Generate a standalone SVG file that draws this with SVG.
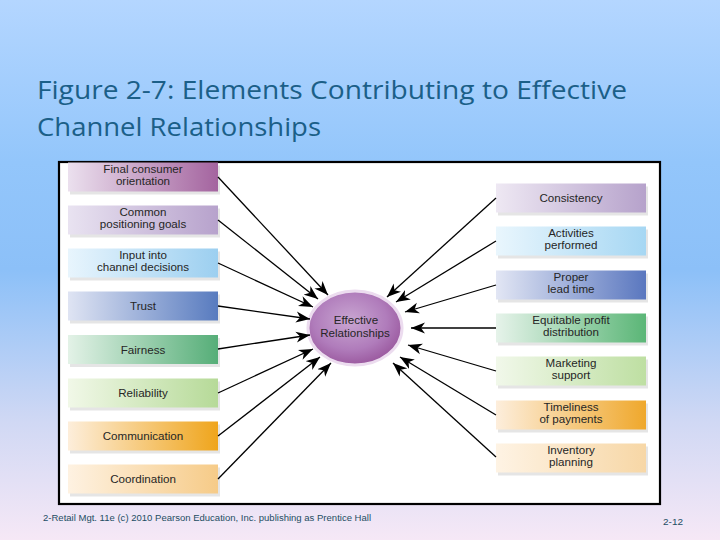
<svg xmlns="http://www.w3.org/2000/svg" width="720" height="540" viewBox="0 0 720 540">
<style>
.lbl{font-family:"Liberation Sans","DejaVu Sans",sans-serif;font-size:11.6px;fill:#262626;text-anchor:middle}
.sh{fill:#cfcfcf;opacity:0.55}
.con line{stroke:#000;stroke-width:1.3;fill:none;marker-end:url(#ah)}
.title{font-family:"Open Sans","Liberation Sans",sans-serif;font-size:25px;fill:#1b5f88}
.foot{font-family:"Liberation Sans",sans-serif;font-size:8.5px;fill:#1d4d63}
</style>
<defs>
<linearGradient id="bg" x1="0" y1="0" x2="0" y2="1">
<stop offset="0" stop-color="#b4d6ff"/>
<stop offset="0.3" stop-color="#93c6fb"/>
<stop offset="0.5" stop-color="#8cc0f8"/>
<stop offset="0.78" stop-color="#d0d8f4"/>
<stop offset="1" stop-color="#f6e8f6"/>
</linearGradient>
<radialGradient id="ell" cx="0.45" cy="0.4" r="0.65">
<stop offset="0" stop-color="#c9a6d2"/>
<stop offset="0.6" stop-color="#b07cbb"/>
<stop offset="1" stop-color="#965299"/>
</radialGradient>
<linearGradient id="g1"><stop offset="0" stop-color="#ebe0ee"/><stop offset="1" stop-color="#a4649f"/></linearGradient>
<linearGradient id="g2"><stop offset="0" stop-color="#e9e3f1"/><stop offset="1" stop-color="#b7a2cc"/></linearGradient>
<linearGradient id="g3"><stop offset="0" stop-color="#e8f5fd"/><stop offset="1" stop-color="#9ccff0"/></linearGradient>
<linearGradient id="g4"><stop offset="0" stop-color="#dfe4f3"/><stop offset="1" stop-color="#587bbf"/></linearGradient>
<linearGradient id="g5"><stop offset="0" stop-color="#e3f2e7"/><stop offset="1" stop-color="#56ae78"/></linearGradient>
<linearGradient id="g6"><stop offset="0" stop-color="#f1f8e8"/><stop offset="1" stop-color="#b6da98"/></linearGradient>
<linearGradient id="g7"><stop offset="0" stop-color="#fdeedb"/><stop offset="1" stop-color="#efa51c"/></linearGradient>
<linearGradient id="g8"><stop offset="0" stop-color="#fef2e2"/><stop offset="1" stop-color="#f6cb88"/></linearGradient>
<linearGradient id="r1"><stop offset="0" stop-color="#eee8f3"/><stop offset="1" stop-color="#b6a2cb"/></linearGradient>
<linearGradient id="r2"><stop offset="0" stop-color="#e9f6fd"/><stop offset="1" stop-color="#a6d7f3"/></linearGradient>
<linearGradient id="r3"><stop offset="0" stop-color="#e2e6f4"/><stop offset="1" stop-color="#5a77bf"/></linearGradient>
<linearGradient id="r4"><stop offset="0" stop-color="#e6f3ea"/><stop offset="1" stop-color="#5bb677"/></linearGradient>
<linearGradient id="r5"><stop offset="0" stop-color="#f1f8ea"/><stop offset="1" stop-color="#bedfa2"/></linearGradient>
<linearGradient id="r6"><stop offset="0" stop-color="#fdeedc"/><stop offset="1" stop-color="#efa82c"/></linearGradient>
<linearGradient id="r7"><stop offset="0" stop-color="#fef3e4"/><stop offset="1" stop-color="#f7d7a6"/></linearGradient>
<marker id="ah" viewBox="-14 -6 15 12" refX="0" refY="0" markerWidth="15" markerHeight="12" markerUnits="userSpaceOnUse" orient="auto">
<path d="M0,0 L-14,-5.5 L-10,0 L-14,5.5 Z" fill="#000"/>
</marker>
</defs>

<rect x="0" y="0" width="720" height="540" fill="url(#bg)"/>

<text class="title" x="37" y="99" textLength="590" lengthAdjust="spacingAndGlyphs">Figure 2-7: Elements Contributing to Effective</text>
<text class="title" x="37" y="136" textLength="284" lengthAdjust="spacingAndGlyphs">Channel Relationships</text>

<rect x="59" y="162" width="601" height="342" fill="#fff" stroke="#000" stroke-width="2.2"/>

<g id="left-1"><rect class="sh" x="70" y="165.5" width="150" height="29"/><rect x="68" y="162.5" width="150" height="29" fill="url(#g1)"/><text class="lbl" x="143" y="173">Final consumer</text><text class="lbl" x="143" y="185">orientation</text></g>
<g id="left-2"><rect class="sh" x="70" y="208.5" width="150" height="29"/><rect x="68" y="205.5" width="150" height="29" fill="url(#g2)"/><text class="lbl" x="143" y="216">Common</text><text class="lbl" x="143" y="228">positioning goals</text></g>
<g id="left-3"><rect class="sh" x="70" y="251.5" width="150" height="29"/><rect x="68" y="248.5" width="150" height="29" fill="url(#g3)"/><text class="lbl" x="143" y="259">Input into</text><text class="lbl" x="143" y="271">channel decisions</text></g>
<g id="left-4"><rect class="sh" x="70" y="294.5" width="150" height="29"/><rect x="68" y="291.5" width="150" height="29" fill="url(#g4)"/><text class="lbl" x="143" y="310">Trust</text></g>
<g id="left-5"><rect class="sh" x="70" y="338" width="150" height="29"/><rect x="68" y="335" width="150" height="29" fill="url(#g5)"/><text class="lbl" x="143" y="353.5">Fairness</text></g>
<g id="left-6"><rect class="sh" x="70" y="381.5" width="150" height="29"/><rect x="68" y="378.5" width="150" height="29" fill="url(#g6)"/><text class="lbl" x="143" y="397">Reliability</text></g>
<g id="left-7"><rect class="sh" x="70" y="424.5" width="150" height="29"/><rect x="68" y="421.5" width="150" height="29" fill="url(#g7)"/><text class="lbl" x="143" y="440">Communication</text></g>
<g id="left-8"><rect class="sh" x="70" y="467.5" width="150" height="29"/><rect x="68" y="464.5" width="150" height="29" fill="url(#g8)"/><text class="lbl" x="143" y="483">Coordination</text></g>

<g id="right-1"><rect class="sh" x="498" y="186.5" width="150" height="29"/><rect x="496" y="183.5" width="150" height="29" fill="url(#r1)"/><text class="lbl" x="571" y="202">Consistency</text></g>
<g id="right-2"><rect class="sh" x="498" y="229.5" width="150" height="29"/><rect x="496" y="226.5" width="150" height="29" fill="url(#r2)"/><text class="lbl" x="571" y="237">Activities</text><text class="lbl" x="571" y="249">performed</text></g>
<g id="right-3"><rect class="sh" x="498" y="273.5" width="150" height="29"/><rect x="496" y="270.5" width="150" height="29" fill="url(#r3)"/><text class="lbl" x="571" y="281">Proper</text><text class="lbl" x="571" y="293">lead time</text></g>
<g id="right-4"><rect class="sh" x="498" y="316.5" width="150" height="29"/><rect x="496" y="313.5" width="150" height="29" fill="url(#r4)"/><text class="lbl" x="571" y="324">Equitable profit</text><text class="lbl" x="571" y="336">distribution</text></g>
<g id="right-5"><rect class="sh" x="498" y="359.5" width="150" height="29"/><rect x="496" y="356.5" width="150" height="29" fill="url(#r5)"/><text class="lbl" x="571" y="367">Marketing</text><text class="lbl" x="571" y="379">support</text></g>
<g id="right-6"><rect class="sh" x="498" y="403.5" width="150" height="29"/><rect x="496" y="400.5" width="150" height="29" fill="url(#r6)"/><text class="lbl" x="571" y="411">Timeliness</text><text class="lbl" x="571" y="423">of payments</text></g>
<g id="right-7"><rect class="sh" x="498" y="446.5" width="150" height="29"/><rect x="496" y="443.5" width="150" height="29" fill="url(#r7)"/><text class="lbl" x="571" y="454">Inventory</text><text class="lbl" x="571" y="466">planning</text></g>

<g id="center">
<ellipse cx="355" cy="328" rx="47" ry="37" fill="url(#ell)" stroke="#ecdcef" stroke-width="3"/>
<text class="lbl" x="356" y="324">Effective</text>
<text class="lbl" x="355" y="336.5">Relationships</text>
</g>

<g id="connectors" class="con">
<line x1="218" y1="177" x2="328" y2="295"/>
<line x1="218" y1="220" x2="318" y2="299"/>
<line x1="218" y1="263" x2="313" y2="307"/>
<line x1="218" y1="306" x2="310" y2="319"/>
<line x1="218" y1="349" x2="310" y2="335"/>
<line x1="218" y1="393" x2="313" y2="349"/>
<line x1="218" y1="436" x2="320" y2="357"/>
<line x1="218" y1="479" x2="331" y2="363"/>
<line x1="496" y1="198" x2="387" y2="297"/>
<line x1="496" y1="241" x2="396" y2="302"/>
<line x1="496" y1="285" x2="405" y2="312"/>
<line x1="496" y1="328" x2="411" y2="328"/>
<line x1="496" y1="371" x2="408" y2="345"/>
<line x1="496" y1="415" x2="400" y2="357"/>
<line x1="496" y1="457" x2="393" y2="363"/>
</g>

<text class="foot" x="43" y="521" textLength="328" lengthAdjust="spacingAndGlyphs">2-Retail Mgt. 11e (c) 2010 Pearson Education, Inc. publishing as Prentice Hall</text>
<text class="foot" x="663" y="525" font-size="8" textLength="20" lengthAdjust="spacingAndGlyphs">2-12</text>
</svg>
